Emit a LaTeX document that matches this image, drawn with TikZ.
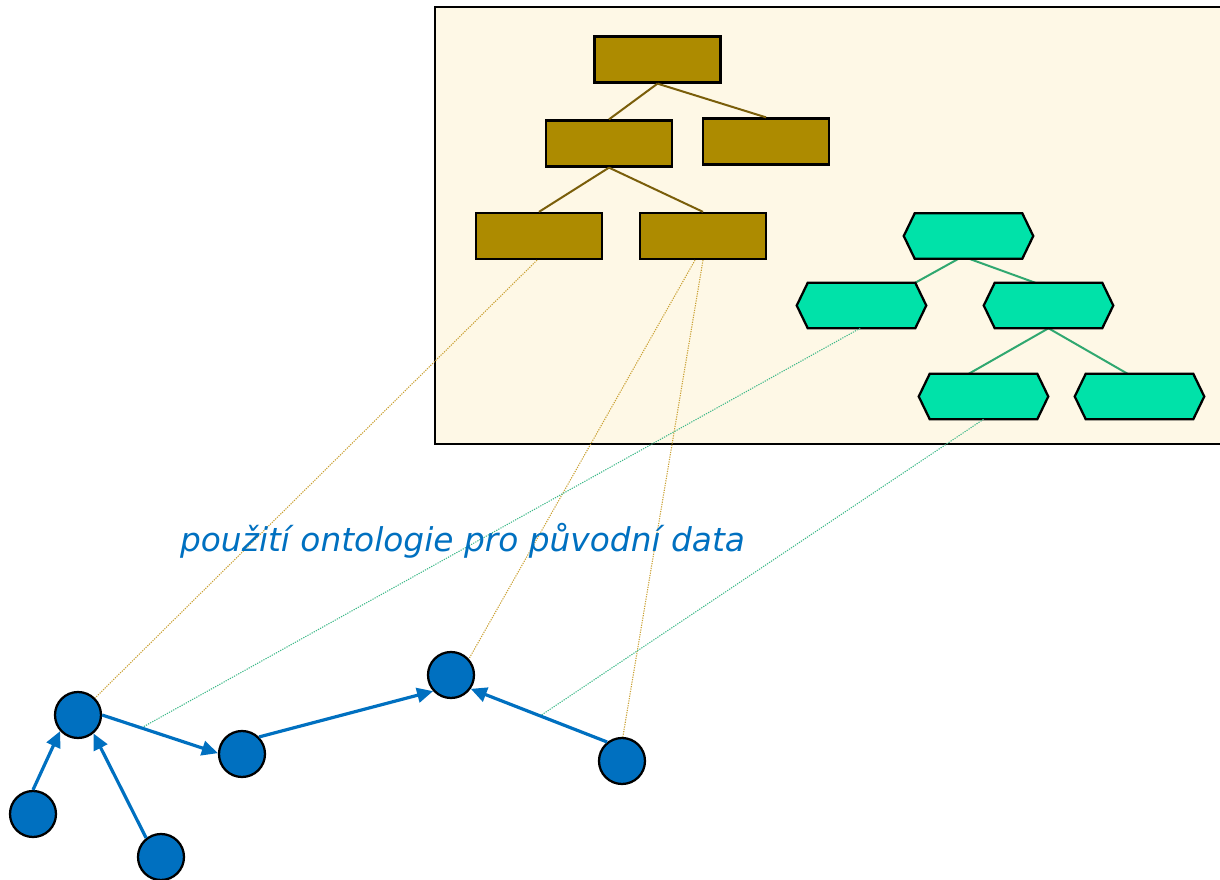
\documentclass[tikz,border=0pt]{standalone}
\usepackage{fontspec}
\setmainfont{DejaVu Sans}
\usetikzlibrary{arrows.meta}

\definecolor{panelfill}{HTML}{FEF8E6}
\definecolor{olivebox}{HTML}{AD8B00}
\definecolor{oliveline}{HTML}{7A5E0A}
\definecolor{goldlink}{HTML}{C9A032}
\definecolor{mintbox}{HTML}{00E2A9}
\definecolor{mintline}{HTML}{30A870}
\definecolor{mintlink}{HTML}{3CB888}
\definecolor{datablue}{HTML}{0070C0}

\tikzset{
  classbox/.style={rectangle, draw=black, line width=1.7pt, fill=olivebox,
    minimum width=94.5pt, minimum height=34.5pt, inner sep=0pt},
  rolebox/.style={rectangle, draw=none, minimum width=96.75pt,
    minimum height=33.75pt, inner sep=0pt},
  hexfill/.style={draw=black, line width=1.7pt, fill=mintbox, line join=miter},
  olivetree/.style={draw=oliveline, line width=1.5pt},
  minttree/.style={draw=mintline, line width=1.5pt},
  datanode/.style={circle, draw=black, line width=1.7pt, fill=datablue,
    minimum size=34.5pt, inner sep=0pt},
  datalink/.style={draw=datablue, line width=2.4pt,
    -{Triangle[length=12pt,width=11pt]}},
  goldmap/.style={draw=goldlink, line width=0.8pt, dash pattern=on 0.9pt off 0.9pt},
  mintmap/.style={draw=mintlink, line width=0.8pt, dash pattern=on 0.9pt off 0.9pt},
}

% hexagon outline drawn around an (invisible) rectangle node
\newcommand{\hexaround}[1]{%
  \path[hexfill] ([xshift=8.25pt]#1.north west) -- ([xshift=-8.25pt]#1.north east)
    -- (#1.east) -- ([xshift=-8.25pt]#1.south east) -- ([xshift=8.25pt]#1.south west)
    -- (#1.west) -- cycle;}

\begin{document}
\begin{tikzpicture}[x=0.75pt, y=-0.75pt]
  \useasboundingbox (0,0) rectangle (1220,880);
  \clip (0,0) rectangle (1220,880);

  % ontology panel
  \draw[line width=1.6pt, fill=panelfill] (435,7) rectangle (1230,444);

  % class hierarchy
  \node[classbox] (r0) at (657.5,59.5) {};
  \node[classbox] (r1) at (609,143.5) {};
  \node[classbox] (r2) at (766,141.5) {};
  \node[classbox] (r3) at (539,236) {};
  \node[classbox] (r4) at (703,236) {};
  \draw[olivetree] (r0.south) -- (r1.north);
  \draw[olivetree] (r0.south) -- (r2.north);
  \draw[olivetree] (r1.south) -- (r3.north);
  \draw[olivetree] (r1.south) -- (r4.north);

  % second hierarchy (hexagons)
  \node[rolebox] (h0) at (968.5,236) {};
  \node[rolebox] (h1) at (861.5,305.5) {};
  \node[rolebox] (h2) at (1048.5,305.5) {};
  \node[rolebox] (h3) at (983.5,396.5) {};
  \node[rolebox] (h4) at (1139.5,396.5) {};
  \draw[minttree] ([xshift=-7.5pt]h0.south) -- ([xshift=-8.25pt]h1.north east);
  \draw[minttree] ([xshift=0.5pt]h0.south) -- ([xshift=-10pt]h2.north);
  \draw[minttree] (h2.south) -- ([xshift=-11pt]h3.north);
  \draw[minttree] (h2.south) -- ([xshift=-9pt]h4.north);
  \hexaround{h0}
  \hexaround{h1}
  \hexaround{h2}
  \hexaround{h3}
  \hexaround{h4}

  % data graph
  \node[datanode] (c1) at (78,715) {};
  \node[datanode] (c2) at (242,754) {};
  \node[datanode] (c3) at (451,675) {};
  \node[datanode] (c4) at (622,761) {};
  \node[datanode] (c5) at (33,814) {};
  \node[datanode] (c6) at (161,857) {};

  % free ends of the mapping lines that stop on edges
  \coordinate (m1) at (143,727);
  \coordinate (m2) at (540,716);

  % mapping lines
  \draw[goldmap] ([xshift=-1.5pt]r3.south) -- (c1.45);
  \draw[goldmap] ([xshift=-6pt]r4.south) -- (c3.42);
  \draw[goldmap] (r4.south) -- (c4.88);
  \draw[mintmap] ([xshift=-1pt]h1.south) -- (m1);
  \draw[mintmap] (h3.south) -- (m2);

  \draw[datalink] (c5.north) -- (c1.222);
  \draw[datalink] (c6.128) -- (c1.-50);
  \draw[datalink] (c1.east) -- (c2.178);
  \draw[datalink] (c2.45) -- (c3.222);
  \draw[datalink] (c4.128) -- (c3.-35);

  \node[text=datablue, font=\itshape\fontsize{24.6}{29}\selectfont, inner sep=0pt]
    (caption) at (462.5,541) {použití ontologie pro původní data};
\end{tikzpicture}
\end{document}
